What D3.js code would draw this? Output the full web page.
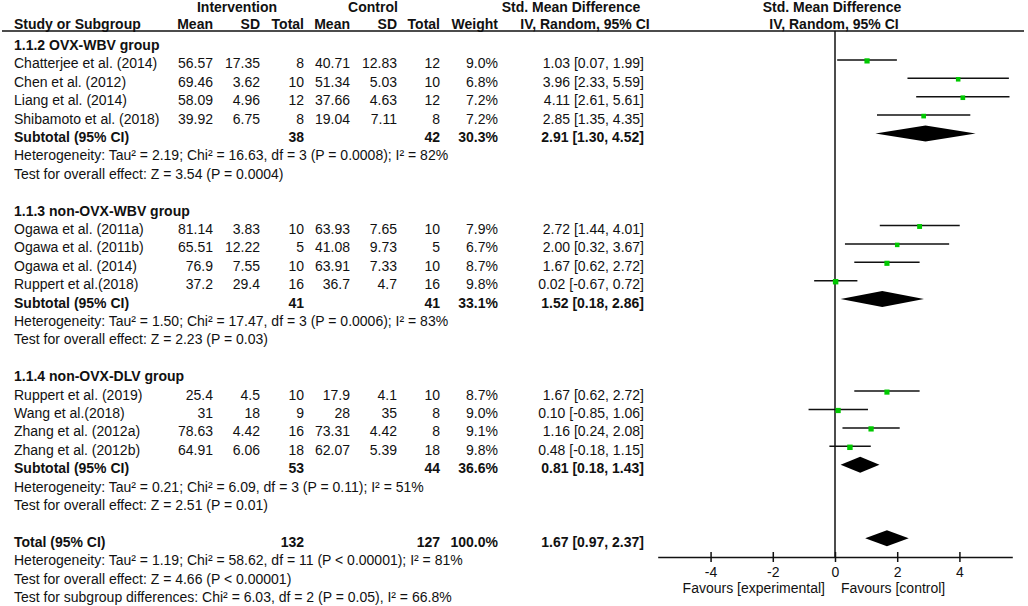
<!DOCTYPE html>
<html>
<head>
<meta charset="utf-8">
<script src="https://cdn.jsdelivr.net/npm/d3@7"></script>
<style>
  body { margin: 0; background: #fff; }
  svg text { font-family: "Liberation Sans", Arial, sans-serif; font-size: 14px; fill: #111; }
  svg .bold { font-weight: bold; }
</style>
</head>
<body>
<svg width="1028" height="606"></svg>
<script>
// subgroup names
const groupNames = ['1.1.2 OVX-WBV group', '1.1.3 non-OVX-WBV group', '1.1.4 non-OVX-DLV group']

// one entry per study
const studyNames = [
  'Chatterjee et al. (2014)', 'Chen et al. (2012)', 'Liang et al. (2014)', 'Shibamoto et al. (2018)',
  'Ogawa et al. (2011a)', 'Ogawa et al. (2011b)', 'Ogawa et al. (2014)', 'Ruppert et al.(2018)',
  'Ruppert et al. (2019)', 'Wang et al.(2018)', 'Zhang et al. (2012a)', 'Zhang et al. (2012b)'
]
const studyGroup = [0, 0, 0, 0, 1, 1, 1, 1, 2, 2, 2, 2]
const intMean = ['56.57', '69.46', '58.09', '39.92', '81.14', '65.51', '76.9', '37.2', '25.4', '31', '78.63', '64.91']
const intSD = ['17.35', '3.62', '4.96', '6.75', '3.83', '12.22', '7.55', '29.4', '4.5', '18', '4.42', '6.06']
const intN = [8, 10, 12, 8, 10, 5, 10, 16, 10, 9, 16, 18]
const ctlMean = ['40.71', '51.34', '37.66', '19.04', '63.93', '41.08', '63.91', '36.7', '17.9', '28', '73.31', '62.07']
const ctlSD = ['12.83', '5.03', '4.63', '7.11', '7.65', '9.73', '7.33', '4.7', '4.1', '35', '4.42', '5.39']
const ctlN = [12, 10, 12, 8, 10, 5, 10, 16, 10, 8, 8, 18]
const weights = [9.0, 6.8, 7.2, 7.2, 7.9, 6.7, 8.7, 9.8, 8.7, 9.0, 9.1, 9.8]
const smd = [1.03, 3.96, 4.11, 2.85, 2.72, 2.00, 1.67, 0.02, 1.67, 0.10, 1.16, 0.48]
const ciLow = [0.07, 2.33, 2.61, 1.35, 1.44, 0.32, 0.62, -0.67, 0.62, -0.85, 0.24, -0.18]
const ciHigh = [1.99, 5.59, 5.61, 4.35, 4.01, 3.67, 2.72, 0.72, 2.72, 1.06, 2.08, 1.15]

// subgroup totals
const subIntN = [38, 41, 53]
const subCtlN = [42, 41, 44]
const subWeight = [30.3, 33.1, 36.6]
const subSmd = [2.91, 1.52, 0.81]
const subLow = [1.30, 0.18, 0.18]
const subHigh = [4.52, 2.86, 1.43]
const subHet = [
  'Heterogeneity: Tau² = 2.19; Chi² = 16.63, df = 3 (P = 0.0008); I² = 82%',
  'Heterogeneity: Tau² = 1.50; Chi² = 17.47, df = 3 (P = 0.0006); I² = 83%',
  'Heterogeneity: Tau² = 0.21; Chi² = 6.09, df = 3 (P = 0.11); I² = 51%'
]
const subEffect = [
  'Test for overall effect: Z = 3.54 (P = 0.0004)',
  'Test for overall effect: Z = 2.23 (P = 0.03)',
  'Test for overall effect: Z = 2.51 (P = 0.01)'
]

// overall
const totalRow = ['Total (95% CI)', 132, 127, 100.0, 1.67, 0.97, 2.37]
const totalNotes = [
  'Heterogeneity: Tau² = 1.19; Chi² = 58.62, df = 11 (P < 0.00001); I² = 81%',
  'Test for overall effect: Z = 4.66 (P < 0.00001)',
  'Test for subgroup differences: Chi² = 6.03, df = 2 (P = 0.05), I² = 66.8%'
]

const xTicks = [-4, -2, 0, 2, 4]
const axisLabels = ['Favours [experimental]', 'Favours [control]']

const svg = d3.select('svg')

// text columns (right edge of each, study names are left aligned)
const col = {study: 14, intMean: 213, intSD: 260, intN: 304, ctlMean: 350, ctlSD: 397, ctlN: 440, weight: 498, ci: 644}

const ciText = (m, l, h) => `${m.toFixed(2)} [${l.toFixed(2)}, ${h.toFixed(2)}]`
const pct = w => w.toFixed(1) + '%'

// build the list of table rows
const rows = []
groupNames.forEach((g, gi) => {
  rows.push({type: 'group', label: g})
  studyNames.forEach((s, i) => {
    if (studyGroup[i] === gi) rows.push({type: 'study', i})
  })
  rows.push({type: 'subtotal', gi})
  rows.push({type: 'note', label: subHet[gi]})
  rows.push({type: 'note', label: subEffect[gi]})
  rows.push({type: 'blank'})
})
rows.push({type: 'total'})
totalNotes.forEach(t => rows.push({type: 'note', label: t}))

// row index -> text baseline
const yRow = d3.scaleLinear().domain([0, rows.length - 1]).range([50, 602])
const markOffset = -8.5

// effect scale for the plot on the right
const x = d3.scaleLinear().domain([-5.7, 5.7]).range([657.7, 1012.3])
const boxSize = d3.scaleSqrt().domain([0, 10]).range([0, 5.5])
const axisY = 557

// headers
const headers = [
  {t: 'Intervention', x: 237, y: 12, a: 'middle'},
  {t: 'Control', x: 373, y: 12, a: 'middle'},
  {t: 'Std. Mean Difference', x: 571, y: 12, a: 'middle'},
  {t: 'Std. Mean Difference', x: 832, y: 12, a: 'middle'},
  {t: 'Study or Subgroup', x: col.study, y: 29, a: 'start'},
  {t: 'Mean', x: col.intMean, y: 29, a: 'end'},
  {t: 'SD', x: col.intSD, y: 29, a: 'end'},
  {t: 'Total', x: col.intN, y: 29, a: 'end'},
  {t: 'Mean', x: col.ctlMean, y: 29, a: 'end'},
  {t: 'SD', x: col.ctlSD, y: 29, a: 'end'},
  {t: 'Total', x: col.ctlN, y: 29, a: 'end'},
  {t: 'Weight', x: col.weight, y: 29, a: 'end'},
  {t: 'IV, Random, 95% CI', x: 585, y: 29, a: 'middle'},
  {t: 'IV, Random, 95% CI', x: 834, y: 29, a: 'middle'}
]
svg.append('g').attr('class', 'bold')
  .selectAll('text').data(headers)
  .enter().append('text')
    .attr('x', d => d.x)
    .attr('y', d => d.y)
    .attr('text-anchor', d => d.a)
    .text(d => d.t)

svg.append('line')
  .attr('x1', 2).attr('x2', 1024)
  .attr('y1', 31).attr('y2', 31)
  .attr('stroke', '#111').attr('stroke-width', 1.5)

// line of no effect
svg.append('line')
  .attr('x1', x(0)).attr('x2', x(0))
  .attr('y1', 31).attr('y2', axisY)
  .attr('stroke', '#111').attr('stroke-width', 1.5)

const table = svg.append('g')
const cell = (y, xPos, txt, anchor, bold) => table.append('text')
  .attr('x', xPos).attr('y', y)
  .attr('text-anchor', anchor)
  .attr('class', bold ? 'bold' : null)
  .text(txt)

const plot = svg.append('g')
const diamond = (y, m, l, h) => plot.append('path')
  .attr('d', `M${x(l)},${y} L${x(m)},${y - 8} L${x(h)},${y} L${x(m)},${y + 8} Z`)
  .attr('fill', '#000')

rows.forEach((r, ri) => {
  const y = yRow(ri)
  const my = y + markOffset
  if (r.type === 'group') {
    cell(y, col.study, r.label, 'start', true)
  } else if (r.type === 'note') {
    cell(y, col.study, r.label, 'start', false)
  } else if (r.type === 'study') {
    const i = r.i
    cell(y, col.study, studyNames[i], 'start')
    cell(y, col.intMean, intMean[i], 'end')
    cell(y, col.intSD, intSD[i], 'end')
    cell(y, col.intN, intN[i], 'end')
    cell(y, col.ctlMean, ctlMean[i], 'end')
    cell(y, col.ctlSD, ctlSD[i], 'end')
    cell(y, col.ctlN, ctlN[i], 'end')
    cell(y, col.weight, pct(weights[i]), 'end')
    cell(y, col.ci, ciText(smd[i], ciLow[i], ciHigh[i]), 'end')
    plot.append('line')
      .attr('x1', x(ciLow[i])).attr('x2', x(ciHigh[i]))
      .attr('y1', my).attr('y2', my)
      .attr('stroke', '#111').attr('stroke-width', 1.5)
    const s = boxSize(weights[i])
    plot.append('rect')
      .attr('x', x(smd[i]) - s / 2).attr('y', my + 1 - s / 2)
      .attr('width', s).attr('height', s)
      .attr('fill', '#00c800')
  } else if (r.type === 'subtotal') {
    const g = r.gi
    cell(y, col.study, 'Subtotal (95% CI)', 'start', true)
    cell(y, col.intN, subIntN[g], 'end', true)
    cell(y, col.ctlN, subCtlN[g], 'end', true)
    cell(y, col.weight, pct(subWeight[g]), 'end', true)
    cell(y, col.ci, ciText(subSmd[g], subLow[g], subHigh[g]), 'end', true)
    diamond(my, subSmd[g], subLow[g], subHigh[g])
  } else if (r.type === 'total') {
    const [label, n1, n2, w, m, l, h] = totalRow
    cell(y, col.study, label, 'start', true)
    cell(y, col.intN, n1, 'end', true)
    cell(y, col.ctlN, n2, 'end', true)
    cell(y, col.weight, pct(w), 'end', true)
    cell(y, col.ci, ciText(m, l, h), 'end', true)
    diamond(my, m, l, h)
  }
})

// x axis with ticks crossing the line
const axisG = svg.append('g')
  .attr('transform', `translate(0,${axisY})`)
  .call(d3.axisBottom(x)
    .tickValues(xTicks)
    .tickFormat(d => String(d))
    .tickSizeOuter(0)
    .tickSizeInner(5)
    .tickPadding(5))
axisG.attr('font-size', null).attr('font-family', null)
axisG.select('.domain').attr('stroke', '#111').attr('stroke-width', 1.5)
axisG.selectAll('.tick line').attr('y1', -5).attr('y2', 5)
  .attr('stroke', '#111').attr('stroke-width', 1.5)
axisG.selectAll('.tick text').attr('fill', '#111')

svg.append('text').attr('x', 825).attr('y', 593).attr('text-anchor', 'end').text(axisLabels[0])
svg.append('text').attr('x', 841).attr('y', 593).attr('text-anchor', 'start').text(axisLabels[1])
</script>
</body>
</html>
